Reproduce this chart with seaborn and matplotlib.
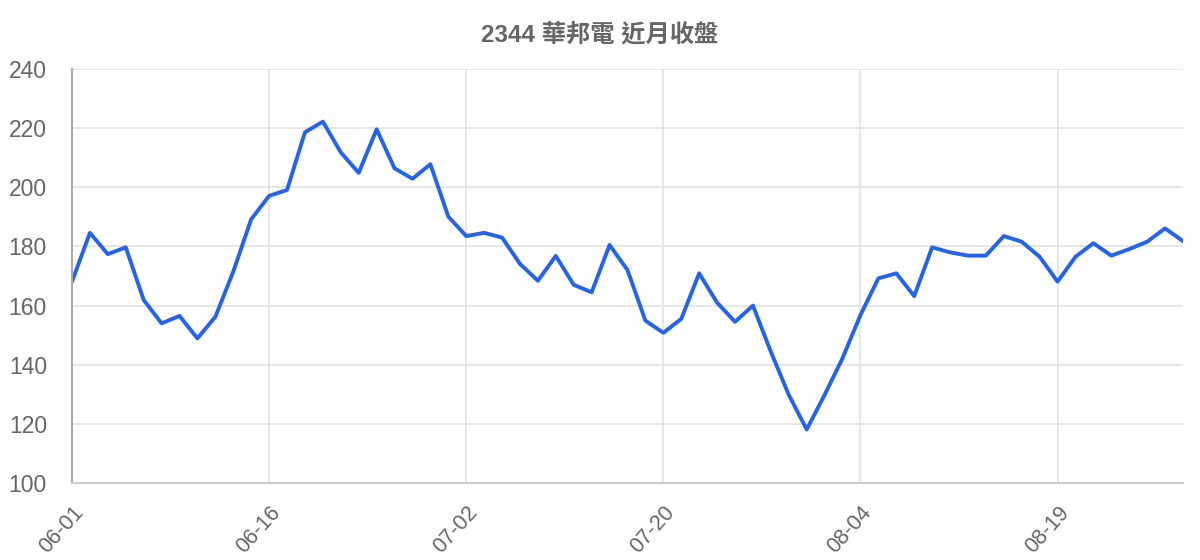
import matplotlib
matplotlib.use("Agg")
import matplotlib.pyplot as plt
import seaborn as sns
import pandas as pd

dates = ["06-01", "06-02", "06-03", "06-04", "06-05", "06-08", "06-09", "06-10", "06-11", "06-12",
         "06-15", "06-16", "06-17", "06-18", "06-19", "06-22", "06-23", "06-24", "06-26", "06-29",
         "06-30", "07-01", "07-02", "07-03", "07-06", "07-07", "07-08", "07-09", "07-10", "07-13",
         "07-14", "07-15", "07-16", "07-20", "07-21", "07-22", "07-23", "07-24", "07-27", "07-28",
         "07-29", "07-30", "07-31", "08-03", "08-04", "08-05", "08-06", "08-07", "08-10", "08-11",
         "08-12", "08-13", "08-14", "08-17", "08-18", "08-19", "08-20", "08-21", "08-24", "08-25",
         "08-26", "08-27", "08-28"]
close = [168.1, 184.6, 177.4, 179.7, 161.9, 154.0, 156.5, 148.9, 156.2, 171.5,
         189.2, 197.1, 199.1, 218.6, 222.2, 211.8, 204.9, 219.6, 206.4, 202.9,
         207.8, 190.1, 183.5, 184.6, 183.0, 174.1, 168.4, 176.8, 167.0, 164.5,
         180.5, 172.0, 154.9, 150.8, 155.5, 170.9, 161.0, 154.5, 160.0, 144.4,
         129.8, 118.1, 129.8, 142.2, 156.8, 169.2, 170.9, 163.2, 179.7, 178.0,
         176.9, 176.9, 183.5, 181.6, 176.5, 168.1, 176.5, 181.1, 176.9, 179.1,
         181.6, 186.1, 181.8]
tick_labels = ["06-01", "06-16", "07-02", "07-20", "08-04", "08-19"]
y_ticks = [100, 120, 140, 160, 180, 200, 220, 240]
title = "2344 華邦電 近月收盤"

df = pd.DataFrame({"idx": range(len(close)), "date": dates, "close": close})

sns.set_theme(style="white")
plt.rcParams['font.family'] = ['Liberation Sans', 'Noto Sans CJK TC', 'DejaVu Sans']

fig = plt.figure(figsize=(12, 5.6), dpi=100)
ax = fig.add_axes([72/1200, 1-483/560, (1183-72)/1200, (483-69)/560])

sns.lineplot(data=df, x="idx", y="close", ax=ax, color="#2563EB", linewidth=2.8)

ax.set_xlim(0, len(close) - 1)
ax.set_ylim(100, 240)
ax.set_yticks(y_ticks)
ax.set_yticklabels([str(v) for v in y_ticks])
tick_pos = [dates.index(t) for t in tick_labels]
ax.set_xticks(tick_pos)
ax.set_xticklabels(tick_labels, rotation=48, ha="right", va="top", rotation_mode="anchor")

ax.grid(True, color="#e3e3e3", linewidth=1.2)
ax.set_axisbelow(True)
for s in ["top", "right"]:
    ax.spines[s].set_visible(False)
ax.spines["left"].set_color("#aaaaaa")
ax.spines["left"].set_linewidth(1.5)
ax.spines["bottom"].set_color("#cccccc")
ax.spines["bottom"].set_linewidth(1.5)

ax.tick_params(axis="y", length=14, width=1.2, color="#e3e3e3", labelsize=16.5, labelcolor="#666666", pad=4)
ax.tick_params(axis="x", length=14, width=1.2, color="#e3e3e3", labelsize=15.5, labelcolor="#666666", pad=0)
ax.set_xlabel("")
ax.set_ylabel("")

fig.text(0.5, 1-36/560, title, ha="center", va="center", fontsize=17.5, fontweight="bold", color="#666666")

fig.savefig("out.png", dpi=100)
